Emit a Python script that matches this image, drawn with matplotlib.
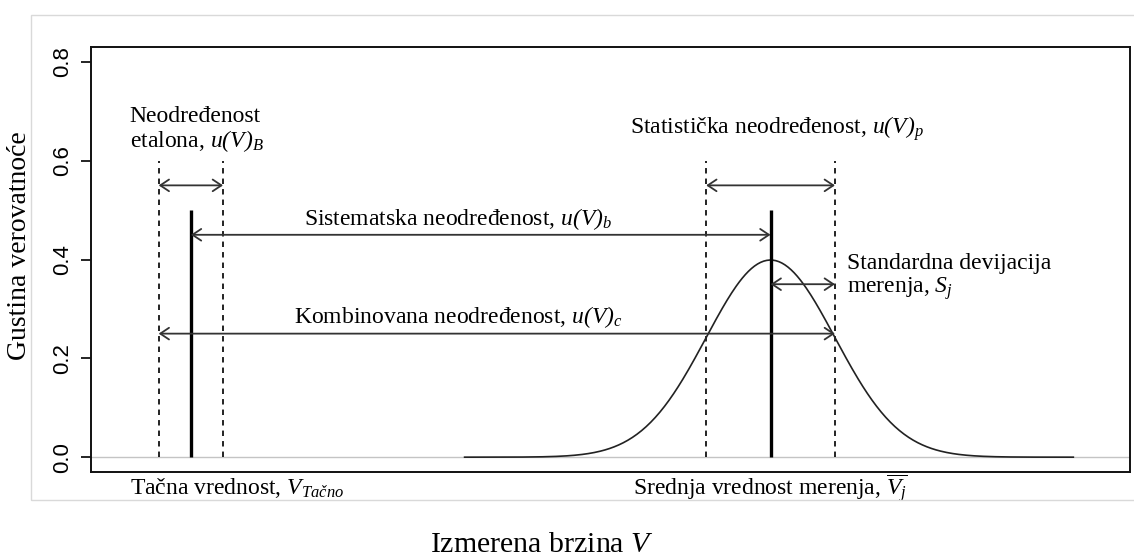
import numpy as np
import matplotlib
matplotlib.use("Agg")
from matplotlib import pyplot as plt
from matplotlib.patches import Rectangle

true_value = -9.0          # Tačna vrednost
ref_half = 0.5             # half width of the etalon band
mean_value = 0.0           # Srednja vrednost merenja
sd_value = 1.0             # Standardna devijacija
line_height = 0.5          # height of the two solid markers
dash_top = 0.6             # height of the dashed guides
curve_range = [-4.75, 4.7]
level_top = 0.55           # etalon / statistička arrows
level_sys = 0.45           # sistematska arrow
level_sd = 0.35            # standardna devijacija arrow
level_comb = 0.25          # kombinovana arrow
yticks = [0.0, 0.2, 0.4, 0.6, 0.8]

W, H = 1134, 557
# all math bits in the picture are italic, parentheses included
plt.rcParams["mathtext.fontset"] = "custom"
plt.rcParams["mathtext.rm"] = "Liberation Serif:italic"
plt.rcParams["mathtext.it"] = "Liberation Serif:italic"
plt.rcParams["mathtext.bf"] = "Liberation Serif:bold"

serif = "Liberation Serif"
fs_note = 17

fig = plt.figure(figsize=(W / 100, H / 100), dpi=100)
ax = fig.add_axes([91 / W, 1 - 472 / H, (1130 - 91) / W, (472 - 47) / H])

# light frame round the whole chart
fig.patches.append(Rectangle((31 / W, 1 - 500 / H), 1.0, (500 - 15) / H,
                             transform=fig.transFigure, fill=False,
                             edgecolor="#d9d9d9", lw=1.0))

ax.axhline(0, color="#c4c4c4", lw=1.0, zorder=1)

# normal density of the measurements
xc = np.linspace(curve_range[0], curve_range[1], 400)
yc = np.exp(-0.5 * ((xc - mean_value) / sd_value) ** 2) / (sd_value * np.sqrt(2 * np.pi))
ax.plot(xc, yc, color="#222222", lw=1.2, zorder=2)

# solid markers
for xv in [true_value, mean_value]:
    ax.plot([xv, xv], [0, line_height], color="black", lw=2.4, solid_capstyle="butt", zorder=3)

# dashed guides
dash_x = [true_value - ref_half, true_value + ref_half,
          mean_value - sd_value, mean_value + sd_value]
for xv in dash_x:
    ax.plot([xv, xv], [0, dash_top], color="#222222", lw=1.4,
            linestyle=(0, (2.8, 2.6)), zorder=2)


def arrow(x0, x1, y):
    ax.annotate("", xy=(x1, y), xytext=(x0, y),
                arrowprops=dict(arrowstyle="<->,head_length=0.45,head_width=0.3",
                                color="#333333", lw=1.3, shrinkA=0, shrinkB=0,
                                mutation_scale=14))


arrow(true_value - ref_half, true_value + ref_half, level_top)
arrow(mean_value - sd_value, mean_value + sd_value, level_top)
arrow(true_value, mean_value, level_sys)
arrow(mean_value, mean_value + sd_value, level_sd)
arrow(true_value - ref_half, mean_value + sd_value, level_comb)

# notes
ax.text(-9.95, 0.662, "Neodređenost\netalona, $u(V)_B$", ha="left", va="center",
        family=serif, fontsize=fs_note, linespacing=1.05)
ax.text(0.1, 0.665, "Statistička neodređenost, $u(V)_p$", ha="center", va="center",
        family=serif, fontsize=fs_note)
ax.text(-4.85, 0.481, "Sistematska neodređenost, $u(V)_b$", ha="center", va="center",
        family=serif, fontsize=fs_note)
ax.text(-4.85, 0.283, "Kombinovana neodređenost, $u(V)_c$", ha="center", va="center",
        family=serif, fontsize=fs_note)
ax.text(1.19, 0.364, "Standardna devijacija\nmerenja, $S_j$", ha="left", va="center",
        family=serif, fontsize=fs_note, linespacing=1.05)
ax.text(-9.95, -0.063, "Tačna vrednost, $V_{Tačno}$", ha="left", va="center",
        family=serif, fontsize=fs_note, clip_on=False)
ax.text(mean_value, -0.063, r"Srednja vrednost merenja, $\overline{V_j}$", ha="center",
        va="center", family=serif, fontsize=fs_note, clip_on=False)

ax.set_xlim(-10.55, 5.58)
ax.set_ylim(-0.03, 0.83)
ax.set_xticks([])
ax.set_yticks(yticks)
ax.set_yticklabels([f"{v:.1f}" for v in yticks], family="Liberation Sans",
                   fontsize=16, rotation=90, va="center")
ax.tick_params(axis="y", length=7, width=1.2, pad=6)
for sp in ax.spines.values():
    sp.set_linewidth(1.4)
    sp.set_color("#111111")

fig.text(542 / W, 1 - 545 / H, "Izmerena brzina $V$", ha="center", va="center",
         family=serif, fontsize=21.5)
fig.text(20 / W, 1 - 246 / H, "Gustina verovatnoće", ha="center", va="center",
         rotation=90, family=serif, fontsize=20)

fig.savefig("out.png", dpi=100, facecolor="white")
